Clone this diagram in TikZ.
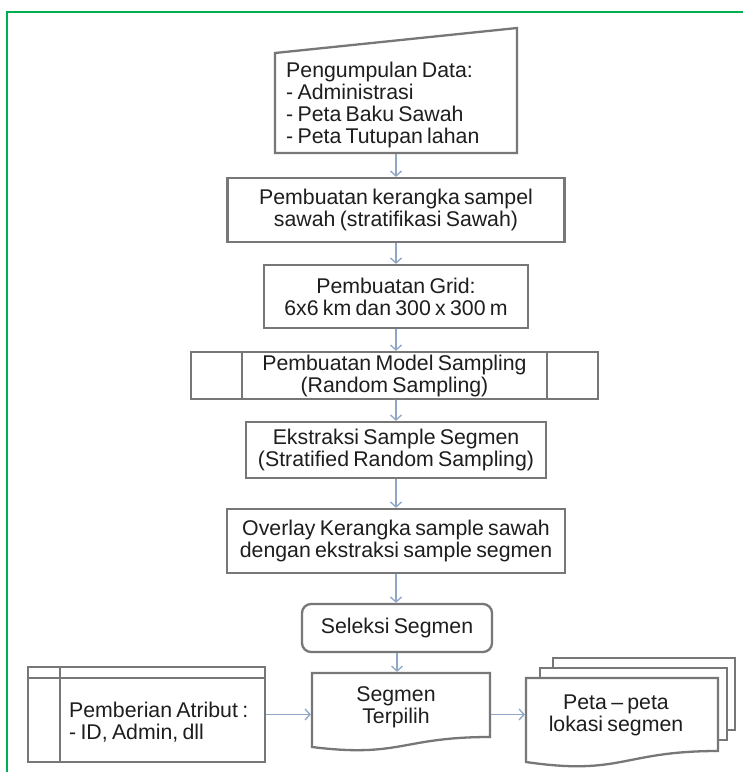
\documentclass[tikz,border=0pt]{standalone}
\usepackage{fontspec}
\setmainfont[WordSpace=0.72]{Liberation Sans}
\usetikzlibrary{arrows.meta}
\definecolor{boxline}{HTML}{777777}
\definecolor{txt}{HTML}{1E1E1E}
\definecolor{arr}{HTML}{8FA7C6}
\definecolor{framegreen}{HTML}{00B050}
\begin{document}
\begin{tikzpicture}[x=1pt,y=-1pt,
  shapeline/.style={draw=boxline,line width=2.3pt,fill=white},
  lbl/.style={text=txt,font=\fontsize{21.3}{22}\selectfont,align=center,inner sep=0pt},
  box/.style={shapeline,lbl,rectangle},
  ghost/.style={inner sep=0pt,outer sep=1.1pt,rectangle},
  flow/.style={draw=arr,line width=1.3pt,-{Straight Barb[length=5pt,width=11pt]}}]
\useasboundingbox (0,0) rectangle (743,772);
\fill[white] (0,0) rectangle (743,772);
\draw[framegreen,line width=2pt] (743,12) -- (7,12) -- (7,772);

% 1 manual input
\draw[shapeline] (275,53) -- (517,28) -- (517,153) -- (275,153) -- cycle;
\node[ghost,minimum width=242pt,minimum height=125pt] (n1) at (396,90.5) {};
\node[lbl,align=left,anchor=west] (n1t) at (286,105) {Pengumpulan Data:\\- Administrasi\\- Peta Baku Sawah\\- Peta Tutupan lahan};

% 2
\node[box,minimum width=337pt,minimum height=64pt] (b2) at (396,210) {Pembuatan kerangka sampel\\sawah (stratifikasi Sawah)};
% 3
\node[box,minimum width=264pt,minimum height=63pt] (b3) at (396,296.5) {Pembuatan Grid:\\6x6 km dan 300 x 300 m};
% 4 predefined process
\node[box,minimum width=407pt,minimum height=47pt] (b4) at (394.5,375.5) {Pembuatan Model Sampling\\(Random Sampling)};
\draw[shapeline,fill=none] (242,352) -- (242,399) (547,352) -- (547,399);
% 5
\node[box,minimum width=300pt,minimum height=56pt] (b5) at (396,450) {Ekstraksi Sample Segmen\\(Stratified Random Sampling)};
% 6
\node[box,minimum width=338pt,minimum height=64pt] (b6) at (396,541) {Overlay Kerangka sample sawah\\dengan ekstraksi sample segmen};
% 7
\node[box,rounded corners=9pt,minimum width=190pt,minimum height=48pt] (b7) at (397,628) {Seleksi Segmen};

% 8 document
\draw[shapeline] (312,673) -- (490,673) -- (490,737) .. controls (401,737) and (401,758) .. (312,747) -- cycle;
\node[ghost,minimum width=178pt,minimum height=80pt] (b8) at (401,713) {};
\node[lbl] (b8t) at (396,707) {Segmen\\Terpilih};

% 9 multi document
\draw[shapeline] (553,658) rectangle (735,730);
\draw[shapeline] (540,668) rectangle (727,740);
\draw[shapeline] (526,678) -- (718,678) -- (718,751) .. controls (622,751) and (622,776) .. (526,762) -- cycle;
\node[ghost,minimum width=192pt,minimum height=72pt] (b9) at (622,714) {};
\node[lbl] (b9t) at (616,715) {Peta -- peta\\lokasi segmen};

% 0 internal storage
\node[shapeline,ghost,minimum width=237pt,minimum height=95pt] (b0) at (146.5,714.5) {};
\draw[shapeline,fill=none] (28,678) -- (265,678) (60,667) -- (60,762);
\node[lbl,align=left,anchor=west] (b0t) at (69,722) {Pemberian Atribut :\\- ID, Admin, dll};

% connectors
\draw[flow] (n1.south) -- (n1.south |- b2.north);
\draw[flow] (b2.south) -- (b2.south |- b3.north);
\draw[flow] (b3.south) -- (b3.south |- b4.north);
\draw[flow] (b4.south -| b3.south) -- (b3.south |- b5.north);
\draw[flow] (b5.south) -- (b5.south |- b6.north);
\draw[flow] (b6.south) -- (b6.south |- b7.north);
\draw[flow] (b7.south) -- (b7.south |- b8.north);
\draw[flow] (b0.east) -- (b0.east -| b8.west);
\draw[flow] (b8.east |- b0.east) -- (b9.west |- b0.east);
\end{tikzpicture}
\end{document}
